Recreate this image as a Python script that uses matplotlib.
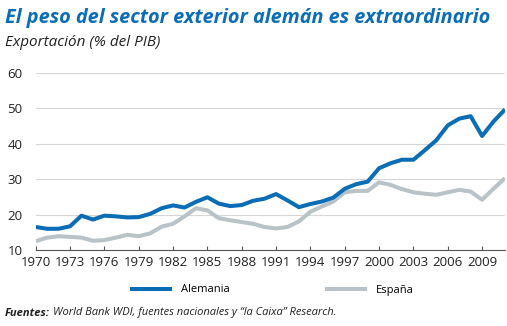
import numpy as np
import matplotlib
matplotlib.use("Agg")
import matplotlib.pyplot as plt

years = list(range(1970, 2012))
alemania = [16.5, 16.0, 16.0, 16.7, 19.7, 18.6, 19.7, 19.5, 19.2, 19.3,
            20.2, 21.8, 22.6, 22.0, 23.6, 24.9, 23.1, 22.4, 22.7, 23.9,
            24.5, 25.8, 24.0, 22.1, 23.0, 23.7, 24.8, 27.3, 28.6, 29.3,
            33.1, 34.5, 35.5, 35.5, 38.2, 41.0, 45.2, 47.1, 47.8, 42.2,
            46.3, 49.7]
espana = [12.5, 13.5, 13.9, 13.7, 13.5, 12.6, 12.8, 13.5, 14.3, 13.9,
          14.7, 16.6, 17.4, 19.5, 21.8, 21.2, 19.0, 18.4, 17.9, 17.4,
          16.5, 16.1, 16.5, 18.1, 20.8, 22.3, 23.7, 26.3, 26.7, 26.7,
          29.1, 28.4, 27.2, 26.3, 25.9, 25.6, 26.3, 27.0, 26.5, 24.2,
          27.3, 30.3]
xticks = list(range(1970, 2012, 3))
yticks = [10, 20, 30, 40, 50, 60]

blue = "#0b6db5"
grey = "#b9c2c6"
font = ["Open Sans", "DejaVu Sans"]
W, H = 507, 326

fig = plt.figure(figsize=(5.07, 3.26), dpi=100)
ax = fig.add_axes([0.0704, 0.2331, 0.9256, 0.543])

l_es, = ax.plot(years, espana, color=grey, lw=2.9, solid_capstyle="butt", zorder=3)
l_de, = ax.plot(years, alemania, color=blue, lw=2.9, solid_capstyle="butt", zorder=4)

ax.set_xlim(1970, 2011)
ax.set_ylim(10, 60)
ax.set_xticks(xticks)
ax.set_yticks(yticks)
ax.grid(axis="y", color="#d6d6d6", lw=0.8)
ax.set_axisbelow(True)
for s in ["top", "right", "left"]:
    ax.spines[s].set_visible(False)
ax.spines["bottom"].set_color("#555555")
ax.spines["bottom"].set_linewidth(0.8)
ax.tick_params(axis="x", direction="in", length=3, color="#555555", labelsize=9.5, pad=4)
ax.tick_params(axis="y", length=0, labelsize=9.5, pad=9.5)
for lab in ax.get_xticklabels() + ax.get_yticklabels():
    lab.set_family(font)
    lab.set_color("#222222")

fig.text(5 / W, 1 - 18 / H, "El peso del sector exterior alemán es extraordinario",
         family=font, fontsize=14.3, fontweight="bold", style="italic", color=blue,
         va="center")
fig.text(5 / W, 1 - 43 / H, "Exportación (% del PIB)", family=font, fontsize=11,
         style="italic", color="#222222", va="center")

leg_kw = dict(loc="center left", frameon=False, prop={"family": font, "size": 8},
              handlelength=3.8, handletextpad=0.8, borderpad=0, borderaxespad=0)
fig.legend([l_de], ["Alemania"], bbox_to_anchor=(130 / W, 1 - 290 / H), **leg_kw)
fig.legend([l_es], ["España"], bbox_to_anchor=(325 / W, 1 - 290 / H), **leg_kw)

t1 = fig.text(5 / W, 1 - 313 / H, "Fuentes:", family=font, fontsize=8,
              fontweight="bold", style="italic", color="#222222", va="center")
fig.canvas.draw()
bb = t1.get_window_extent(fig.canvas.get_renderer())
fig.text(bb.x1 / W + 3 / W, 1 - 313 / H,
         "World Bank WDI, fuentes nacionales y \u201cla Caixa\u201d Research.",
         family=font, fontsize=8, style="italic", color="#222222", va="center")

fig.savefig("out.png", dpi=100)
